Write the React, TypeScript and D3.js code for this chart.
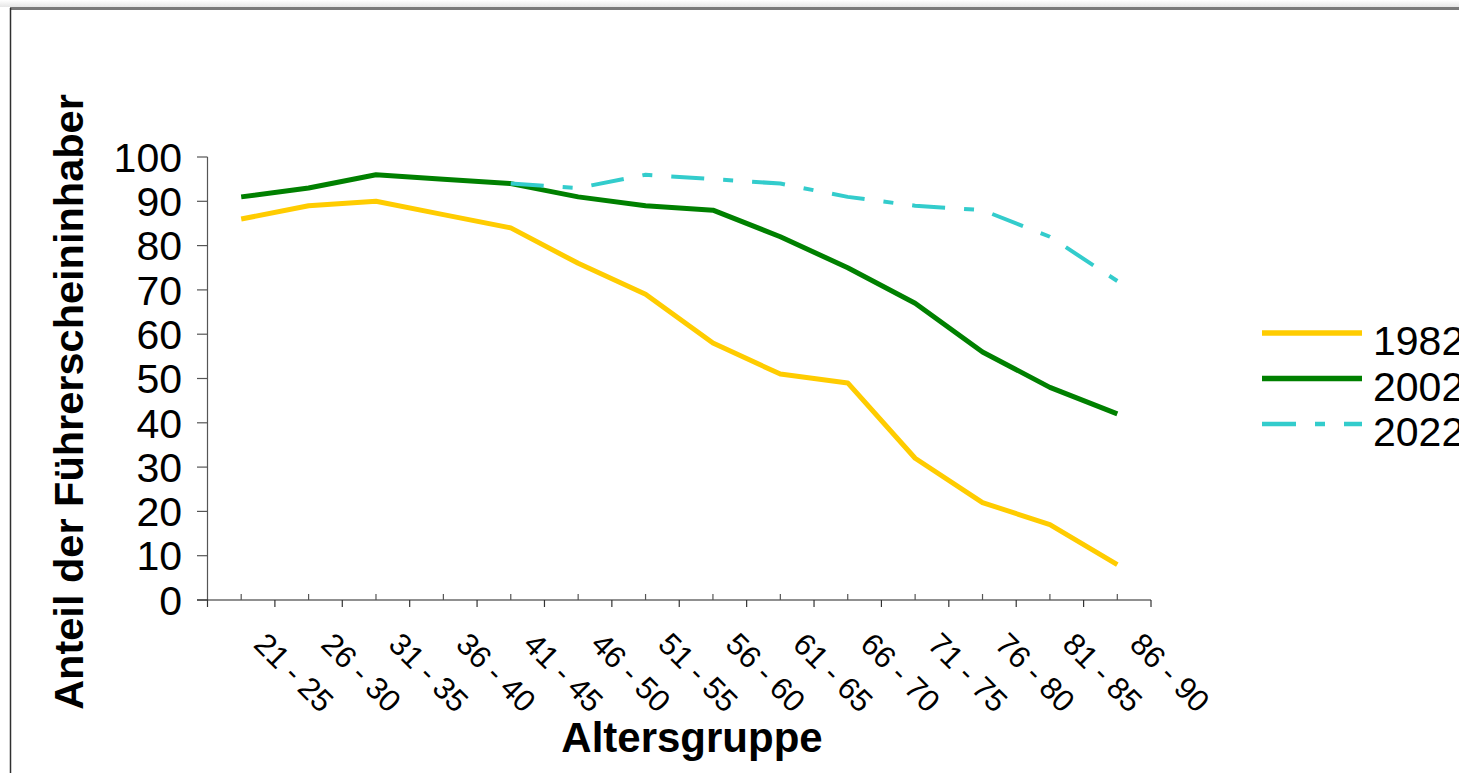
import React from "react";
import * as d3 from "d3";

const categories = [
  "21 - 25", "26 - 30", "31 - 35", "36 - 40", "41 - 45", "46 - 50", "51 - 55",
  "56 - 60", "61 - 65", "66 - 70", "71 - 75", "76 - 80", "81 - 85", "86 - 90",
];
const values1982: (number | null)[] = [86, 89, 90, 87, 84, 76, 69, 58, 51, 49, 32, 22, 17, 8];
const values2002: (number | null)[] = [91, 93, 96, 95, 94, 91, 89, 88, 82, 75, 67, 56, 48, 42];
const values2022: (number | null)[] = [null, null, null, null, 94, 93, 96, 95, 94, 91, 89, 88, 82, 72];
const yTicks = [0, 10, 20, 30, 40, 50, 60, 70, 80, 90, 100];
const seriesNames = ["1982", "2002", "2022"];

const W = 1459;
const H = 773;
const FONT = "'Liberation Sans', Arial, Helvetica, sans-serif";

export default function App() {
  const x = d3.scaleBand<string>().domain(categories).range([207.5, 1151]).padding(0);
  const bw = x.bandwidth();
  const cx = (c: string) => (x(c) as number) + bw / 2;
  const y = d3.scaleLinear().domain([0, 100]).range([600, 157]);

  const series = [
    { name: seriesNames[0], values: values1982, color: "#FFCC00", width: 5, dash: undefined as string | undefined },
    { name: seriesNames[1], values: values2002, color: "#008000", width: 5, dash: undefined },
    { name: seriesNames[2], values: values2022, color: "#33CCCC", width: 4, dash: "33 19 10 19" },
  ];

  const line = d3
    .line<number | null>()
    .defined((d) => d !== null)
    .x((_, i) => cx(categories[i]))
    .y((d) => y(d as number));

  const boundaries = [...categories.map((c) => x(c) as number), (x(categories[categories.length - 1]) as number) + bw];

  return (
    <svg width={W} height={H} style={{ position: "absolute", left: 0, top: 0, background: "#fff" }} fontFamily={FONT}>
      <defs>
        <linearGradient id="shadow" x1="0" y1="0" x2="0" y2="1">
          <stop offset="0" stopColor="#ffffff" />
          <stop offset="1" stopColor="#e6e6e6" />
        </linearGradient>
      </defs>
      <rect x={0} y={0} width={W} height={7} fill="url(#shadow)" />
      {/* frame */}
      <line x1={10} y1={8.5} x2={W} y2={8.5} stroke="#7a7a7a" strokeWidth={3} />
      <line x1={10.5} y1={8} x2={10.5} y2={H} stroke="#303030" strokeWidth={1.5} />

      {/* y axis */}
      <line x1={207.5} y1={y(100)} x2={207.5} y2={y(0)} stroke="#555" strokeWidth={1.2} />
      {yTicks.map((t) => (
        <g key={t}>
          <line x1={197} x2={207.5} y1={y(t)} y2={y(t)} stroke="#555" strokeWidth={1.2} />
          <text x={182} y={y(t)} dy="0.36em" textAnchor="end" fontSize={41} fill="#000">
            {t}
          </text>
        </g>
      ))}

      {/* x axis */}
      <line x1={197} y1={600} x2={boundaries[boundaries.length - 1]} y2={600} stroke="#222" strokeWidth={1.2} />
      {boundaries.map((b, i) => (
        <line key={"b" + i} x1={b} x2={b} y1={600} y2={607} stroke="#333" strokeWidth={1.2} />
      ))}
      {categories.map((c) => (
        <line key={"c" + c} x1={cx(c)} x2={cx(c)} y1={594} y2={600} stroke="#555" strokeWidth={1.2} />
      ))}
      {categories.map((c) => (
        <text
          key={"l" + c}
          transform={`translate(${cx(c) + 11},${646}) rotate(45)`}
          fontSize={31}
          fill="#000"
        >
          {c}
        </text>
      ))}

      {/* lines */}
      {series.map((s) => (
        <path
          key={s.name}
          d={line(s.values) || ""}
          fill="none"
          stroke={s.color}
          strokeWidth={s.width}
          strokeDasharray={s.dash}
          strokeLinejoin="round"
        />
      ))}

      {/* axis titles */}
      <text
        transform={`translate(83,402) rotate(-90)`}
        textAnchor="middle"
        fontSize={41.5}
        fontWeight="bold"
        fill="#000"
      >
        Anteil der Führerscheininhaber
      </text>
      <text x={692} y={752} textAnchor="middle" fontSize={42} fontWeight="bold" fill="#000">
        Altersgruppe
      </text>

      {/* legend */}
      {series.map((s, i) => {
        const ly = 333 + i * 45.5;
        return (
          <g key={"lg" + s.name}>
            <line
              x1={1262}
              x2={1362}
              y1={ly}
              y2={ly}
              stroke={s.color}
              strokeWidth={s.width + 0.5}
              strokeDasharray={s.dash ? "34 19 10 19" : undefined}
            />
            <text x={1373} y={ly + 22} fontSize={41} fill="#000">
              {s.name}
            </text>
          </g>
        );
      })}
    </svg>
  );
}
